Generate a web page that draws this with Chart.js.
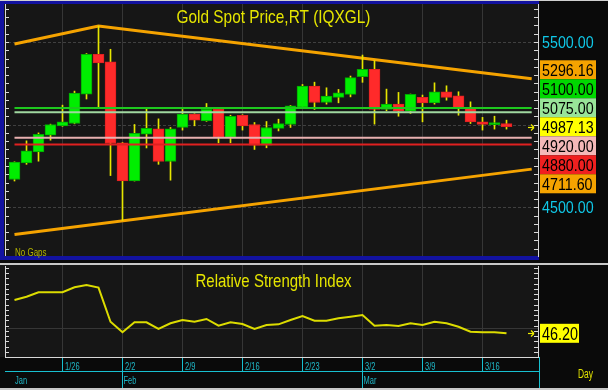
<!DOCTYPE html>
<html>
<head>
<meta charset="utf-8">
<script src="https://cdn.jsdelivr.net/npm/chart.js@4.4.1/dist/chart.umd.min.js"></script>
<style>
  html, body { margin: 0; padding: 0; background: #c8c8c8; }
  #wrap { position: relative; width: 608px; height: 390px; overflow: hidden; }
  canvas { position: absolute; left: 0; display: block; }
  #price { top: 0; }
  #rsi { top: 262px; }
</style>
</head>
<body>
<div id="wrap">
  <canvas id="price" width="608" height="262"></canvas>
  <canvas id="rsi" width="608" height="128"></canvas>
</div>
<script>
// trading days shown on the chart
const dates = ['1/20','1/21','1/22','1/23','1/26','1/27','1/28','1/29','1/30',
  '2/2','2/3','2/4','2/5','2/6','2/9','2/10','2/11','2/12','2/13',
  '2/16','2/17','2/18','2/19','2/20','2/23','2/24','2/25','2/26','2/27',
  '3/2','3/3','3/4','3/5','3/6','3/9','3/10','3/11','3/12','3/13',
  '3/16','3/17','3/18'];
const weekLabels = ['1/26','2/2','2/9','2/16','2/23','3/2','3/9','3/16'];
const months = ['Jan','Feb','Mar'];
const monthFirst = ['1/20','2/2','3/2'];

// daily OHLC
const open  = [4668,4768,4835,4936,4993,5007,5185,5425,5380,4890,4659,4942,4974,4777,4983,5064,5023,5092,4922,5057,5001,4876,4977,5001,5104,5233,5134,5165,5183,5290,5334,5092,5124,5082,5165,5132,5199,5175,5102,5017,5000,5007];
const high  = [4775,4902,4950,5003,5118,5203,5430,5597,5456,4892,5001,5102,5035,4983,5092,5066,5128,5102,5057,5060,5013,5019,5033,5116,5243,5257,5223,5213,5294,5421,5387,5215,5195,5185,5179,5253,5235,5199,5138,5044,5051,5027];
const low   = [4659,4760,4779,4906,4990,5005,5155,5104,4692,4421,4659,4859,4760,4664,4967,4993,5020,4890,4890,4967,4850,4860,4962,4983,5102,5092,5124,5132,5168,5256,5003,5084,5051,5068,5017,5124,5148,5057,5007,4967,4973,4973];
const close = [4774,4841,4942,5001,5017,5191,5425,5374,4886,4659,4947,4977,4777,4974,5064,5027,5092,4922,5051,4993,4876,4983,5007,5114,5233,5134,5173,5193,5284,5334,5092,5124,5082,5183,5132,5199,5165,5098,5017,5001,5005,4987.13];

// 14-day RSI
const rsi = [71.5,74,77.4,77.4,77.4,81.2,82.9,80.9,55,47,54.6,54.6,49.5,53.8,56.3,55,57.1,52,54.6,53.3,49.5,52.5,53,56.3,59.3,55.8,55.8,57.6,58.8,60.1,52,52.5,51.7,53.8,52.5,55,53.8,51.2,47.4,47,47,46.2];

// trend lines (index, price) and horizontal levels
const upperTrend = [{x: 0, y: 5488}, {x: 7, y: 5597}, {x: 43.1, y: 5278}];
const lowerTrend = [{x: 0, y: 4336}, {x: 43.1, y: 4731}];
const levelEnd = 43.1;
const levels = [5100, 5075, 4920, 4880];
const levelColors = ['#1ec81e', '#a0d8a0', '#e8b0b0', '#e02020'];
const upperLast = 5296.16;
const lowerLast = 4711.60;
const lastClose = 4987.13;
const priceGrid = [4500, 5000, 5500];

const GREEN = '#00ee00', RED = '#ff2a2a', WICK = '#e6e600';
const FONT = '"Liberation Sans", Arial, sans-serif';
const xMin = -13 / 24, xMax = 1049 / 24;

function sqText(ctx, text, x, y, size, color, sx, align) {
  ctx.save();
  ctx.font = size + 'px ' + FONT;
  ctx.fillStyle = color;
  ctx.textBaseline = 'alphabetic';
  ctx.translate(x, y);
  ctx.scale(sx, 1);
  ctx.textAlign = align || 'left';
  ctx.fillText(text, 0, 0);
  ctx.restore();
}

function seg(ctx, x1, y1, x2, y2) {
  ctx.beginPath();
  ctx.moveTo(x1, y1);
  ctx.lineTo(x2, y2);
  ctx.stroke();
}

function arrow(ctx, xr, y) {
  ctx.save();
  ctx.strokeStyle = '#f0f000';
  ctx.lineWidth = 1.2;
  seg(ctx, xr - 7, y, xr - 1, y);
  seg(ctx, xr - 4, y - 3, xr - 1, y);
  seg(ctx, xr - 4, y + 3, xr - 1, y);
  ctx.restore();
}

function tag(ctx, text, x, cy, bg, fg, size, sx, w) {
  if (bg) {
    ctx.fillStyle = bg;
    ctx.fillRect(x, cy - 9.5, w, 19);
  }
  sqText(ctx, text, x + 2, cy + size * 0.36, size, fg, sx);
}

const pricePanel = {
  id: 'pricePanel',
  beforeDraw(chart) {
    const {ctx, chartArea: a, scales: {x, y}} = chart;
    ctx.save();
    ctx.fillStyle = '#0a0a0a';
    ctx.fillRect(0, 0, chart.width, chart.height);
    ctx.fillStyle = '#1212a0';
    ctx.fillRect(0, 0, a.right, a.bottom + 4);
    ctx.fillStyle = '#d0d0d0';
    ctx.fillRect(0, 0, chart.width, 1);
    ctx.fillStyle = '#161616';
    ctx.fillRect(4, a.top - 1, a.right - 4, a.bottom - a.top + 1);

    ctx.strokeStyle = '#363636';
    ctx.lineWidth = 1;
    weekLabels.forEach(d => {
      const px = x.getPixelForValue(dates.indexOf(d));
      seg(ctx, px, a.top - 1, px, a.bottom);
    });
    ctx.setLineDash([3, 2]);
    ctx.strokeStyle = '#404040';
    priceGrid.forEach(v => {
      const py = Math.round(y.getPixelForValue(v)) + 0.5;
      seg(ctx, a.left, py, a.right, py);
    });
    ctx.restore();
  },
  afterDatasetsDraw(chart) {
    const {ctx, chartArea: a, scales: {y}} = chart;
    ctx.save();
    // axes with small ticks
    ctx.strokeStyle = '#d8d8d8';
    ctx.lineWidth = 1;
    seg(ctx, 5.5, a.top - 1, 5.5, a.bottom);
    seg(ctx, a.right - 0.5, a.top - 1, a.right - 0.5, a.bottom + 1);
    for (let v = Math.ceil(y.min / 50) * 50; v <= y.max; v += 50) {
      const py = Math.round(y.getPixelForValue(v)) + 0.5;
      seg(ctx, 5, py, 9, py);
      seg(ctx, a.right - 5, py, a.right, py);
    }

    // titles
    sqText(ctx, 'Gold Spot Price,RT (IQXGL)', (a.left + a.right) / 2, 23, 19, '#e6e600', 0.81, 'center');
    sqText(ctx, 'No Gaps', 15, 256, 10, '#b4b400', 0.8);

    // cyan axis values
    const ax = a.right + 1;
    priceGrid.filter(v => v !== 5000).forEach(v => {
      tag(ctx, v.toFixed(2), ax, y.getPixelForValue(v), null, '#10c8e8', 17, 0.84, 56);
    });

    // stacked value tags around the last price
    const tags = [
      {v: upperLast, bg: '#f5a300'},
      {v: levels[0], bg: '#00d800'},
      {v: levels[1], bg: '#98e498'},
      {v: lastClose, bg: '#ffff00'},
      {v: levels[2], bg: '#f4b8b8'},
      {v: levels[3], bg: '#f02020'},
      {v: lowerLast, bg: '#f5a300'}
    ];
    const k = tags.findIndex(t => t.v === lastClose);
    tags[k].cy = y.getPixelForValue(lastClose);
    for (let i = k - 1; i >= 0; i--) {
      tags[i].cy = Math.min(y.getPixelForValue(tags[i].v), tags[i + 1].cy - 19);
    }
    for (let i = k + 1; i < tags.length; i++) {
      tags[i].cy = Math.max(y.getPixelForValue(tags[i].v), tags[i - 1].cy + 19);
    }
    tags.forEach(t => tag(ctx, t.v.toFixed(2), ax, t.cy, t.bg, '#000000', 17, 0.84, 56));

    arrow(ctx, a.right - 4, Math.round(y.getPixelForValue(lastClose)) + 0.5);
    ctx.restore();
  }
};

const rsiPanel = {
  id: 'rsiPanel',
  beforeDraw(chart) {
    const {ctx, chartArea: a, scales: {x, y}} = chart;
    ctx.save();
    ctx.fillStyle = '#0a0a0a';
    ctx.fillRect(0, 0, chart.width, chart.height);
    ctx.fillStyle = '#c8c8c8';
    ctx.fillRect(0, 1, chart.width, 2);
    ctx.fillStyle = '#161616';
    ctx.fillRect(0, a.top, a.right, a.bottom - a.top);

    ctx.strokeStyle = '#363636';
    ctx.lineWidth = 1;
    weekLabels.forEach(d => {
      const px = x.getPixelForValue(dates.indexOf(d));
      seg(ctx, px, a.top, px, a.bottom);
    });
    const py = Math.round(y.getPixelForValue(50)) + 0.5;
    seg(ctx, a.left, py, a.right, py);
    ctx.restore();
  },
  afterDatasetsDraw(chart) {
    const {ctx, chartArea: a, scales: {x, y}} = chart;
    ctx.save();
    ctx.strokeStyle = '#d8d8d8';
    ctx.lineWidth = 1;
    seg(ctx, 5.5, a.top + 1, 5.5, a.bottom);
    seg(ctx, a.right - 0.5, a.top + 1, a.right - 0.5, a.bottom);
    seg(ctx, 5, a.bottom + 0.5, a.right, a.bottom + 0.5);
    for (let v = 32; v <= y.max; v += 4) {
      const py = Math.round(y.getPixelForValue(v)) + 0.5;
      seg(ctx, 5, py, 9, py);
      seg(ctx, a.right - 5, py, a.right, py);
    }

    sqText(ctx, 'Relative Strength Index', (a.left + a.right) / 2, a.top + 22, 19, '#e6e600', 0.79, 'center');

    const last = rsi[rsi.length - 1];
    const cy = y.getPixelForValue(last);
    tag(ctx, last.toFixed(2), a.right + 1, cy, '#ffff00', '#000000', 18, 0.8, 39);
    arrow(ctx, a.right - 4, Math.round(cy) + 0.5);

    // date axis
    const base = a.bottom;
    const mid = base + 14.5;
    ctx.strokeStyle = '#18c0d0';
    seg(ctx, 5, mid, a.right, mid);
    seg(ctx, a.right + 0.5, base, a.right + 0.5, chart.height);
    weekLabels.forEach(d => {
      const px = x.getPixelForValue(dates.indexOf(d));
      seg(ctx, px, base + 1, px, mid);
      sqText(ctx, d, px + 2.5, base + 13, 11, '#20b8c8', 0.68);
    });
    months.forEach((m, i) => {
      const px = x.getPixelForValue(dates.indexOf(monthFirst[i]));
      if (i > 0) seg(ctx, px, mid, px, chart.height);
      sqText(ctx, m, px + (i > 0 ? 1 : 0.5), base + 26.5, 11, '#20b8c8', 0.68);
    });
    sqText(ctx, 'Day', a.right + 39, base + 21, 13, '#e0e000', 0.65);

    ctx.fillStyle = '#c8c8c8';
    ctx.fillRect(0, chart.height - 2, chart.width, 2);
    ctx.restore();
  }
};

const idx = dates.map((d, i) => i);
const bodies = idx.map(i => ({x: i, y: [open[i], close[i]]}));
const wicks = idx.map(i => ({x: i, y: [low[i], high[i]]}));
const bodyColors = idx.map(i => close[i] >= open[i] ? GREEN : RED);
const bodyBorders = idx.map(i => close[i] >= open[i] ? '#00a800' : '#e02020');

const levelSets = levels.map((v, i) => ({
  type: 'line',
  data: [{x: 0, y: v}, {x: levelEnd, y: v}],
  borderColor: levelColors[i],
  borderWidth: 2,
  pointRadius: 0
}));

new Chart(document.getElementById('price'), {
  type: 'bar',
  data: {
    datasets: [
      ...levelSets,
      {data: bodies, backgroundColor: bodyColors, borderColor: bodyBorders, borderWidth: 1,
        borderSkipped: false, barThickness: 11, grouped: false, minBarLength: 2},
      {data: wicks, backgroundColor: WICK, barThickness: 1, grouped: false, minBarLength: 1},
      {type: 'line', data: upperTrend, borderColor: '#f5a300', borderWidth: 3, pointRadius: 0},
      {type: 'line', data: lowerTrend, borderColor: '#f5a300', borderWidth: 3, pointRadius: 0}
    ]
  },
  options: {
    responsive: false,
    animation: false,
    events: [],
    layout: {padding: {left: 8, right: 69, top: 5, bottom: 6}},
    scales: {
      x: {type: 'linear', min: xMin, max: xMax, offset: false, display: false},
      y: {min: 4205.4, max: 5723.8, display: false}
    },
    plugins: {legend: {display: false}, tooltip: {enabled: false}}
  },
  plugins: [pricePanel]
});

new Chart(document.getElementById('rsi'), {
  type: 'line',
  data: {
    datasets: [{
      data: idx.map(i => ({x: i, y: rsi[i]})),
      borderColor: '#dcdc00',
      borderWidth: 2,
      pointRadius: 0,
      tension: 0
    }]
  },
  options: {
    responsive: false,
    animation: false,
    events: [],
    layout: {padding: {left: 8, right: 69, top: 3, bottom: 33}},
    scales: {
      x: {type: 'linear', min: xMin, max: xMax, offset: false, display: false},
      y: {min: 28.2, max: 98.1, display: false}
    },
    plugins: {legend: {display: false}, tooltip: {enabled: false}}
  },
  plugins: [rsiPanel]
});
</script>
</body>
</html>
